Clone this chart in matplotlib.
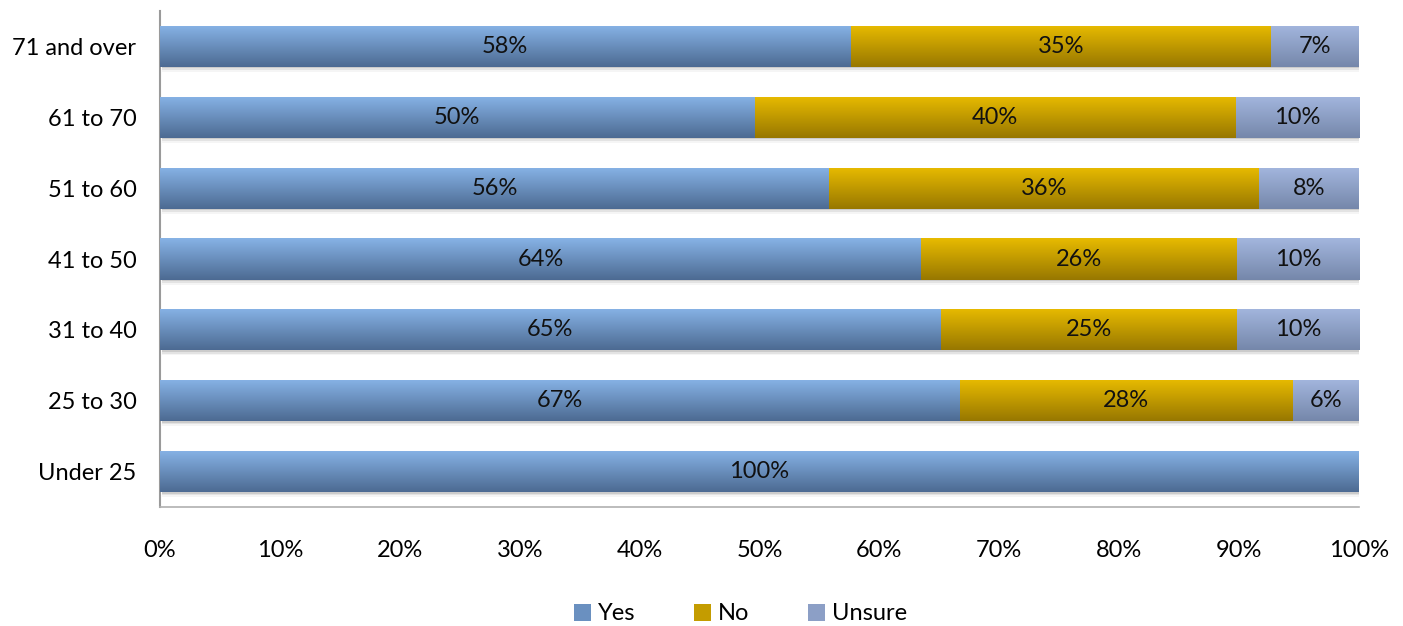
import numpy as np
import matplotlib.pyplot as plt
from matplotlib.colors import LinearSegmentedColormap
from matplotlib.patches import Patch

# Категории и доли ответов (в процентах)
age_groups = ['Under 25', '25 to 30', '31 to 40', '41 to 50', '51 to 60', '61 to 70', '71 and over']
yes = [100.0, 66.7, 65.1, 63.5, 55.8, 49.6, 57.6]
no = [0.0, 27.8, 24.7, 26.3, 35.9, 40.1, 35.1]
unsure = [0.0, 5.5, 10.2, 10.2, 8.3, 10.3, 7.3]
series_names = ['Yes', 'No', 'Unsure']
x_ticks = list(range(0, 101, 10))

# Цвета градиента: верх, низ
grad_colors = {
    'Yes': ('#87b3e6', '#4c6a92'),
    'No': ('#e8bb00', '#977700'),
    'Unsure': ('#a3b6de', '#7587aa'),
}
legend_colors = {'Yes': '#6a90c0', 'No': '#c49c00', 'Unsure': '#8c9fc6'}

plt.rcParams['font.family'] = ['Lato', 'DejaVu Sans']
fs = 17

fig = plt.figure(figsize=(14.03, 6.26), dpi=100)
ax = fig.add_axes([160 / 1403, 1 - 507 / 626, 1199 / 1403, 496 / 626])

y = np.arange(len(age_groups))
bar_h = 0.58
left = np.zeros(len(age_groups))
gradient = np.linspace(0, 1, 256).reshape(-1, 1)

for name, vals in zip(series_names, [yes, no, unsure]):
    vals = np.array(vals)
    cmap = LinearSegmentedColormap.from_list(name, [grad_colors[name][1], grad_colors[name][0]])
    bars = ax.barh(y, vals, left=left, height=bar_h, color='none', edgecolor='none', zorder=3)
    for bar, v in zip(bars, vals):
        if v <= 0:
            continue
        x0, y0 = bar.get_x(), bar.get_y()
        w, h = bar.get_width(), bar.get_height()
        # тень под столбцом
        for k, a in enumerate([0.10, 0.07, 0.04]):
            ax.add_patch(plt.Rectangle((x0 + 0.15, y0 - 0.02 - 0.025 * k), w, h,
                                       color='#000000', alpha=a, lw=0, zorder=1))
        im = ax.imshow(gradient, extent=(x0, x0 + w, y0, y0 + h), aspect='auto',
                       cmap=cmap, origin='lower', zorder=3, interpolation='bicubic')
        im.set_clip_path(bar)
        ax.text(x0 + w / 2, y0 + h / 2, f'{v:.0f}%', ha='center', va='center',
                fontsize=fs, color='#111111', zorder=4)
    left += vals

ax.set_xlim(0, 100)
ax.set_ylim(-0.5, len(age_groups) - 0.5)
ax.set_yticks(y)
ax.set_yticklabels(age_groups, fontsize=fs)
ax.set_xticks(x_ticks)
ax.set_xticklabels([f'{t}%' for t in x_ticks], fontsize=fs)
ax.tick_params(axis='y', length=0, pad=17)
ax.tick_params(axis='x', length=0, pad=24)

for s in ['top', 'right']:
    ax.spines[s].set_visible(False)
ax.spines['left'].set_color('#9a9a9a')
ax.spines['left'].set_linewidth(1.5)
ax.spines['bottom'].set_color('#b0b0b0')
ax.spines['bottom'].set_linewidth(1.2)

handles = [Patch(facecolor=legend_colors[n], label=n) for n in series_names]
fig.legend(handles=handles, loc='center', bbox_to_anchor=(0.528, 1 - 614 / 626), ncol=3,
           frameon=False, fontsize=fs, handlelength=0.7, handleheight=0.7,
           handletextpad=0.3, columnspacing=2.5)

fig.savefig('out.png', dpi=100)
